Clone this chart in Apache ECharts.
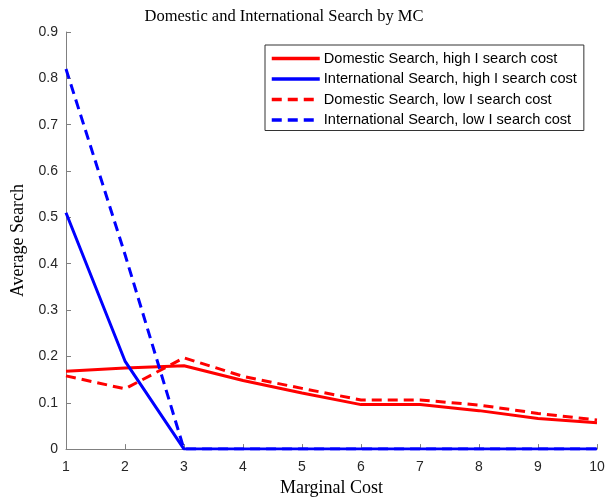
<!DOCTYPE html>
<html><head><meta charset="utf-8">
<script src="https://cdn.jsdelivr.net/npm/echarts@6/dist/echarts.min.js"></script>
<style>html,body{margin:0;padding:0;background:#fff}#c{width:613px;height:502px}</style>
</head><body><div id="c"></div>
<script>
const marginalCost = [1, 2, 3, 4, 5, 6, 7, 8, 9, 10];
const domesticHigh = [0.168, 0.175, 0.180, 0.148, 0.121, 0.096, 0.096, 0.083, 0.066, 0.057];
const internationalHigh = [0.51, 0.19, 0, 0, 0, 0, 0, 0, 0, 0];
const domesticLow = [0.158, 0.130, 0.197, 0.157, 0.131, 0.106, 0.106, 0.095, 0.077, 0.063];
const internationalLow = [0.82, 0.42, 0, 0, 0, 0, 0, 0, 0, 0];
const seriesNames = [
  'Domestic Search, high I search cost',
  'International Search, high I search cost',
  'Domestic Search, low I search cost',
  'International Search, low I search cost'
];

const pair = arr => marginalCost.map((x, i) => [x, arr[i]]);
const mk = (name, arr, color, type) => ({
  name, type: 'line', data: pair(arr), symbol: 'none', animation: false,
  lineStyle: { color, width: 3, type: type === 'dashed' ? [10, 6] : 'solid' },
  itemStyle: { color }
});

const chart = echarts.init(document.getElementById('c'), null, { renderer: 'canvas' });
chart.setOption({
  backgroundColor: '#fff',
  animation: false,
  title: {
    text: 'Domestic and International Search by MC',
    top: 3, left: 279, textAlign: 'center',
    textStyle: { fontFamily: 'Liberation Serif', fontWeight: 'normal', fontSize: 16.5, color: '#000' }
  },
  grid: { left: 66, right: 16, top: 32, bottom: 50.5 },
  legend: {
    orient: 'vertical', left: 265, top: 45,
    padding: [6, 7, 3, 5],
    itemGap: 5.5, itemWidth: 48, itemHeight: 14.5,
    itemStyle: { opacity: 0 },
    lineStyle: { width: 3.5 },
    backgroundColor: '#fff', borderColor: '#333', borderWidth: 1, borderRadius: 0,
    textStyle: { fontFamily: 'Liberation Sans', fontSize: 14.6, color: '#000', padding: [0, 0, 0, -1] },
    data: seriesNames
  },
  xAxis: {
    type: 'value', min: 1, max: 10, interval: 1,
    name: 'Marginal Cost', nameLocation: 'middle', nameGap: 29,
    nameTextStyle: { fontFamily: 'Liberation Serif', fontSize: 18, color: '#000' },
    axisLine: { lineStyle: { color: '#808080', width: 1 } },
    axisTick: { inside: true, length: 5, lineStyle: { color: '#808080' } },
    axisLabel: { fontFamily: 'Liberation Sans', fontSize: 14, color: '#262626', margin: 11 },
    splitLine: { show: false }
  },
  yAxis: {
    type: 'value', min: 0, max: 0.9, interval: 0.1,
    name: 'Average Search', nameLocation: 'middle', nameGap: 37,
    nameTextStyle: { fontFamily: 'Liberation Serif', fontSize: 18, color: '#000' },
    axisLine: { show: true, lineStyle: { color: '#808080', width: 1 } },
    axisTick: { show: true, inside: true, length: 5, lineStyle: { color: '#808080' } },
    axisLabel: { fontFamily: 'Liberation Sans', fontSize: 14, color: '#262626', margin: 8,
      formatter: v => (Math.round(v * 10) / 10).toString() },
    splitLine: { show: false }
  },
  series: [
    mk(seriesNames[0], domesticHigh, '#ff0000', 'solid'),
    mk(seriesNames[1], internationalHigh, '#0000ff', 'solid'),
    mk(seriesNames[2], domesticLow, '#ff0000', 'dashed'),
    mk(seriesNames[3], internationalLow, '#0000ff', 'dashed')
  ]
});
</script></body></html>
